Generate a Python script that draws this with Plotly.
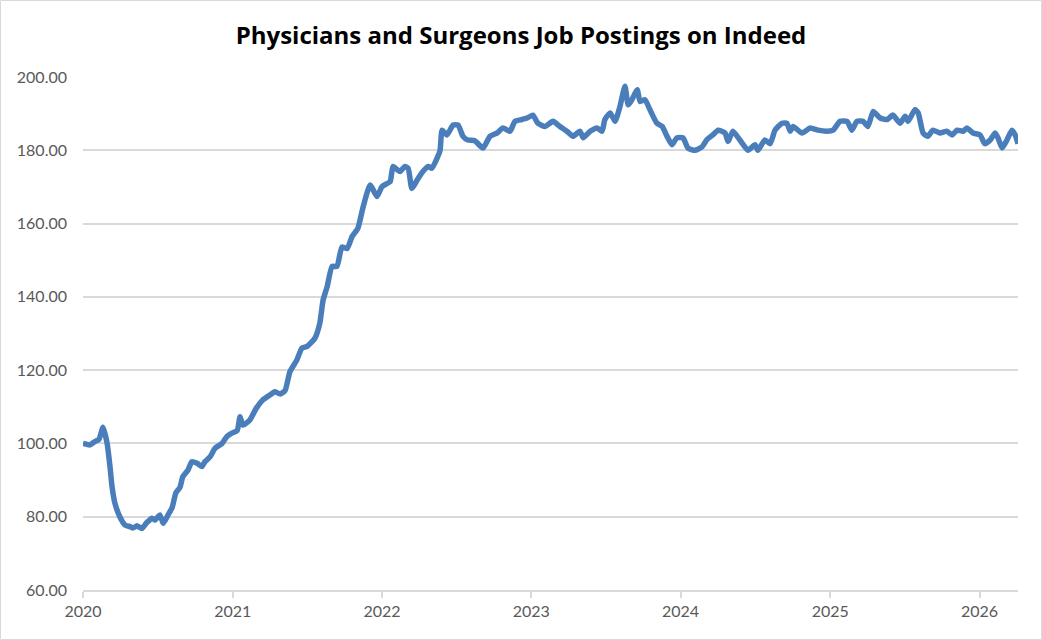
import plotly.graph_objects as go

dates = [
    "2020-01-01", "2020-01-18", "2020-01-30", "2020-02-09", "2020-02-19", "2020-02-29", "2020-03-07",
    "2020-03-12", "2020-03-19", "2020-03-31", "2020-04-13", "2020-04-25", "2020-05-02", "2020-05-12",
    "2020-05-24", "2020-06-05", "2020-06-18", "2020-06-25", "2020-07-07", "2020-07-15", "2020-07-27",
    "2020-08-06", "2020-08-15", "2020-08-25", "2020-09-01", "2020-09-14", "2020-09-23", "2020-10-06",
    "2020-10-18", "2020-10-25", "2020-11-07", "2020-11-19", "2020-12-06", "2020-12-18", "2020-12-30",
    "2021-01-12", "2021-01-19", "2021-01-26", "2021-02-12", "2021-02-27", "2021-03-16", "2021-04-02",
    "2021-04-14", "2021-04-27", "2021-05-09", "2021-05-21", "2021-06-07", "2021-06-19", "2021-07-02",
    "2021-07-21", "2021-08-02", "2021-08-10", "2021-08-20", "2021-09-01", "2021-09-13", "2021-09-25",
    "2021-10-08", "2021-10-20", "2021-11-03", "2021-11-16", "2021-12-03", "2021-12-20",
    "2022-01-01", "2022-01-21", "2022-01-28", "2022-02-14", "2022-02-26", "2022-03-06", "2022-03-15",
    "2022-03-28", "2022-04-11", "2022-04-24", "2022-05-03", "2022-05-16", "2022-05-23", "2022-05-28",
    "2022-06-09", "2022-06-24", "2022-07-06", "2022-07-18", "2022-07-30", "2022-08-16", "2022-09-05",
    "2022-09-22", "2022-10-09", "2022-10-24", "2022-11-10", "2022-11-22", "2022-12-09", "2022-12-22",
    "2023-01-05", "2023-01-17", "2023-02-04", "2023-02-23", "2023-03-12", "2023-03-29", "2023-04-13",
    "2023-04-30", "2023-05-08", "2023-05-25", "2023-06-11", "2023-06-23", "2023-06-30", "2023-07-13",
    "2023-07-25", "2023-08-06", "2023-08-18", "2023-08-26", "2023-09-04", "2023-09-17", "2023-09-24",
    "2023-10-06", "2023-10-18", "2023-11-04", "2023-11-17", "2023-11-29", "2023-12-11", "2023-12-23",
    "2024-01-07", "2024-01-19", "2024-02-05", "2024-02-22", "2024-03-06", "2024-03-20", "2024-04-02",
    "2024-04-19", "2024-04-26", "2024-05-08", "2024-05-25", "2024-06-14", "2024-07-01", "2024-07-08",
    "2024-07-25", "2024-08-07", "2024-08-19", "2024-09-05", "2024-09-17", "2024-09-25", "2024-10-02",
    "2024-10-24", "2024-11-13", "2024-12-02", "2024-12-24",
    "2025-01-08", "2025-01-25", "2025-02-11", "2025-02-23", "2025-03-07", "2025-03-22", "2025-04-03",
    "2025-04-16", "2025-05-03", "2025-05-20", "2025-06-03", "2025-06-21", "2025-07-03", "2025-07-10",
    "2025-07-27", "2025-08-04", "2025-08-16", "2025-08-28", "2025-09-09", "2025-09-26", "2025-10-13",
    "2025-10-26", "2025-11-07", "2025-11-22", "2025-12-01", "2025-12-16",
    "2026-01-02", "2026-01-14", "2026-01-27", "2026-02-08", "2026-02-15", "2026-02-25", "2026-03-09",
    "2026-03-21", "2026-03-29", "2026-04-05",
]

postings = [
    100.0, 99.6, 100.5, 101.1, 104.4, 100.0, 93.7,
    88.2, 83.7, 80.0, 77.7, 77.3, 76.9, 77.5,
    76.8, 78.4, 79.6, 79.1, 80.5, 78.2, 80.5,
    82.5, 86.5, 88.0, 90.9, 92.8, 95.0, 94.6,
    93.7, 95.0, 96.4, 98.7, 100.0, 101.9, 102.8,
    103.5, 107.3, 105.0, 106.4, 109.5, 111.9, 113.2,
    114.1, 113.5, 114.4, 119.6, 122.8, 126.0, 126.5,
    128.7, 132.8, 139.1, 142.8, 148.3, 148.3, 153.6,
    153.2, 156.5, 158.7, 164.6, 170.5, 167.4,
    170.1, 171.5, 175.6, 174.2, 175.6, 175.1, 169.6,
    171.9, 174.2, 175.6, 175.1, 177.9, 180.0, 185.5,
    184.2, 186.9, 186.9, 183.8, 182.8, 182.6, 180.6,
    183.8, 184.7, 186.1, 185.2, 187.9, 188.4, 188.8,
    189.6, 187.4, 186.5, 187.9, 186.5, 185.2, 183.8,
    185.2, 183.4, 185.2, 186.1, 185.2, 188.4, 190.2,
    187.9, 192.0, 197.5, 192.4, 193.8, 196.5, 193.3,
    193.8, 191.1, 187.4, 186.5, 183.8, 181.5, 183.4,
    183.4, 180.6, 180.0, 180.9, 183.0, 184.2, 185.5,
    184.7, 182.4, 185.2, 182.8, 180.0, 181.5, 180.0,
    182.8, 181.8, 185.5, 187.4, 187.4, 185.2, 186.5,
    184.7, 186.1, 185.5, 185.2,
    185.5, 187.9, 187.9, 185.5, 187.9, 187.9, 186.5,
    190.6, 188.8, 188.4, 189.6, 187.4, 189.3, 187.9,
    191.1, 190.2, 184.7, 183.8, 185.5, 184.7, 185.2,
    184.2, 185.5, 185.2, 186.1, 184.7,
    184.2, 181.8, 182.8, 184.7, 183.4, 180.6, 182.8,
    185.5, 184.2, 181.8,
]

title_text = "Physicians and Surgeons Job Postings on Indeed"
y_ticks = [60, 80, 100, 120, 140, 160, 180, 200]
x_ticks = ["2020-01-01", "2021-01-01", "2022-01-01", "2023-01-01",
           "2024-01-01", "2025-01-01", "2026-01-01"]

fig = go.Figure()
fig.add_trace(go.Scatter(
    x=dates, y=postings, mode="lines",
    line=dict(color="#4A7EBB", width=5.5, shape="spline", smoothing=0.5),
    hoverinfo="x+y", showlegend=False,
))

grid_c = "#D9D9D9"
fig.update_layout(
    width=1042, height=640,
    margin=dict(l=83, r=24, t=77, b=50),
    paper_bgcolor="white", plot_bgcolor="white",
    title=dict(text="<b>" + title_text + "</b>", x=0.5, xanchor="center",
               y=0.945, yanchor="middle",
               font=dict(family="Open Sans, Lato, sans-serif", size=24, color="black")),
    font=dict(family="Lato, Open Sans, sans-serif", size=16, color="#595959"),
    xaxis=dict(
        type="date", range=["2020-01-01", "2026-04-05"],
        tickvals=x_ticks, tickformat="%Y",
        showgrid=False, showline=True, linecolor=grid_c, linewidth=1.5,
        ticks="outside", ticklen=6, tickcolor=grid_c, tickwidth=1.5,
        tickfont=dict(size=16, color="#595959"), zeroline=False,
    ),
    yaxis=dict(
        range=[60, 200], tickvals=y_ticks, tickformat=".2f",
        showgrid=True, gridcolor=grid_c, gridwidth=1.5,
        showline=False, zeroline=False, ticks="", ticklabelstandoff=15,
        tickfont=dict(size=16, color="#595959"),
    ),
    shapes=[dict(type="rect", xref="paper", yref="paper",
                 x0=(0.5 - 83) / 935, x1=(1041.5 - 83) / 935,
                 y0=(590 - 639.5) / 513, y1=(590 - 0.5) / 513,
                 line=dict(color=grid_c, width=1), fillcolor="rgba(0,0,0,0)",
                 layer="below")],
)

fig.write_html("out.html", config={"displayModeBar": False},
               post_script="document.body.style.margin='0';")
